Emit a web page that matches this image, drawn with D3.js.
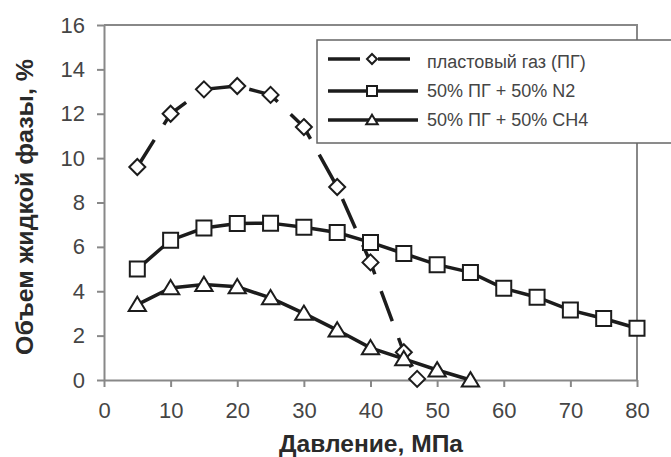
<!DOCTYPE html>
<html><head><meta charset="utf-8">
<script src="https://cdn.jsdelivr.net/npm/d3@7"></script>
<style>
body{margin:0;background:#fff;}
svg{display:block;font-family:"Liberation Sans",Arial,sans-serif;}
</style></head>
<body><svg id="c" width="671" height="457"></svg>
<script>
const seriesNames = ["пластовый газ (ПГ)", "50% ПГ + 50% N2", "50% ПГ + 50% CH4"];
const gasX = [5, 10, 15, 20, 25, 30, 35, 40, 45, 47];
const gasY = [9.6, 12.0, 13.1, 13.25, 12.85, 11.4, 8.7, 5.3, 1.25, 0.05];
const n2X = [5, 10, 15, 20, 25, 30, 35, 40, 45, 50, 55, 60, 65, 70, 75, 80];
const n2Y = [5.0, 6.3, 6.85, 7.05, 7.07, 6.88, 6.65, 6.2, 5.7, 5.2, 4.85, 4.13, 3.73, 3.15, 2.77, 2.33];
const ch4X = [5, 10, 15, 20, 25, 30, 35, 40, 45, 50, 55];
const ch4Y = [3.4, 4.15, 4.3, 4.2, 3.7, 3.0, 2.25, 1.45, 0.95, 0.45, 0.0];
const xTicks = [0, 10, 20, 30, 40, 50, 60, 70, 80];
const yTicks = [0, 2, 4, 6, 8, 10, 12, 14, 16];
const xTitle = "Давление, МПа";
const yTitle = "Объем жидкой фазы, %";

const svg = d3.select("#c");
const x = d3.scaleLinear().domain([0, 80]).range([104, 637]);
const y = d3.scaleLinear().domain([0, 16]).range([380, 25]);
const axisCol = "#888", ink = "#1c1c1c", txt = "#454545";

// frame (top & right)
svg.append("path").attr("d", `M${x(0)},${y(16)}H${x(80)}V${y(0)}`)
  .attr("fill", "none").attr("stroke", axisCol).attr("stroke-width", 2);

const gx = svg.append("g").attr("transform", `translate(0,${y(0)})`)
  .call(d3.axisBottom(x).tickValues(xTicks).tickSize(7).tickPadding(15).tickSizeOuter(0));
const gy = svg.append("g").attr("transform", `translate(${x(0)},0)`)
  .call(d3.axisLeft(y).tickValues(yTicks).tickSize(7).tickPadding(12).tickSizeOuter(0));
[gx, gy].forEach(g => {
  g.select(".domain").attr("stroke", axisCol).attr("stroke-width", 2);
  g.selectAll(".tick line").attr("stroke", axisCol).attr("stroke-width", 2);
  g.selectAll(".tick text").attr("fill", txt).attr("font-size", 22)
    .attr("font-family", "'Liberation Sans',Arial,sans-serif");
});

svg.append("text").text(xTitle).attr("x", 371).attr("y", 452)
  .attr("text-anchor", "middle").attr("font-weight", "bold").attr("font-size", 23)
  .attr("fill", "#2a2a2a").attr("textLength", 184).attr("lengthAdjust", "spacingAndGlyphs");
svg.append("text").text(yTitle).attr("transform", "translate(33,207) rotate(-90)")
  .attr("text-anchor", "middle").attr("font-weight", "bold").attr("font-size", 24)
  .attr("fill", "#2a2a2a").attr("textLength", 296).attr("lengthAdjust", "spacingAndGlyphs");

const line = d3.line().x(d => x(d[0])).y(d => y(d[1]));
const zip = (a, b) => a.map((v, i) => [v, b[i]]);
const gas = zip(gasX, gasY), n2 = zip(n2X, n2Y), ch4 = zip(ch4X, ch4Y);

function marker(g, type, cx, cy, s) {
  let p;
  if (type === "diamond") p = `M${cx},${cy - s}L${cx + s},${cy}L${cx},${cy + s}L${cx - s},${cy}Z`;
  else if (type === "square") p = `M${cx - s},${cy - s}h${2 * s}v${2 * s}h${-2 * s}Z`;
  else p = `M${cx},${cy - s * 1.05}L${cx + s * 1.15},${cy + s * 0.85}L${cx - s * 1.15},${cy + s * 0.85}Z`;
  g.append("path").attr("d", p).attr("fill", "#fff").attr("stroke", ink)
    .attr("stroke-width", 2).attr("stroke-linejoin", "miter");
}

// lines
svg.append("path").attr("d", line(n2)).attr("fill", "none").attr("stroke", ink).attr("stroke-width", 3.5);
svg.append("path").attr("d", line(ch4)).attr("fill", "none").attr("stroke", ink).attr("stroke-width", 3.5);
svg.append("path").attr("d", line(gas)).attr("fill", "none").attr("stroke", ink).attr("stroke-width", 3.5)
  .attr("stroke-dasharray", "32,18");

const gm = svg.append("g");
gas.forEach(d => marker(gm, "diamond", x(d[0]), y(d[1]), 8));
n2.forEach(d => marker(gm, "square", x(d[0]), y(d[1]), 7.5));
ch4.forEach(d => marker(gm, "triangle", x(d[0]), y(d[1]), 7.5));

// legend
const lg = svg.append("g");
lg.append("rect").attr("x", 317).attr("y", 40).attr("width", 380).attr("height", 103)
  .attr("fill", "#fff").attr("stroke", "#666").attr("stroke-width", 1.5);
const rows = [
  {name: seriesNames[0], type: "diamond", ly: 59, ty: 68, x2: 410, dash: "32,18"},
  {name: seriesNames[1], type: "square", ly: 91, ty: 97, x2: 418, dash: null},
  {name: seriesNames[2], type: "triangle", ly: 120, ty: 126, x2: 418, dash: null}
];
rows.forEach(r => {
  lg.append("line").attr("x1", 328).attr("x2", r.x2).attr("y1", r.ly).attr("y2", r.ly)
    .attr("stroke", ink).attr("stroke-width", 3.5).attr("stroke-dasharray", r.dash);
  marker(lg, r.type, 372, r.ly, 5);
  lg.append("text").text(r.name).attr("x", 427).attr("y", r.ty)
    .attr("font-size", 18).attr("fill", txt);
});
</script></body></html>
